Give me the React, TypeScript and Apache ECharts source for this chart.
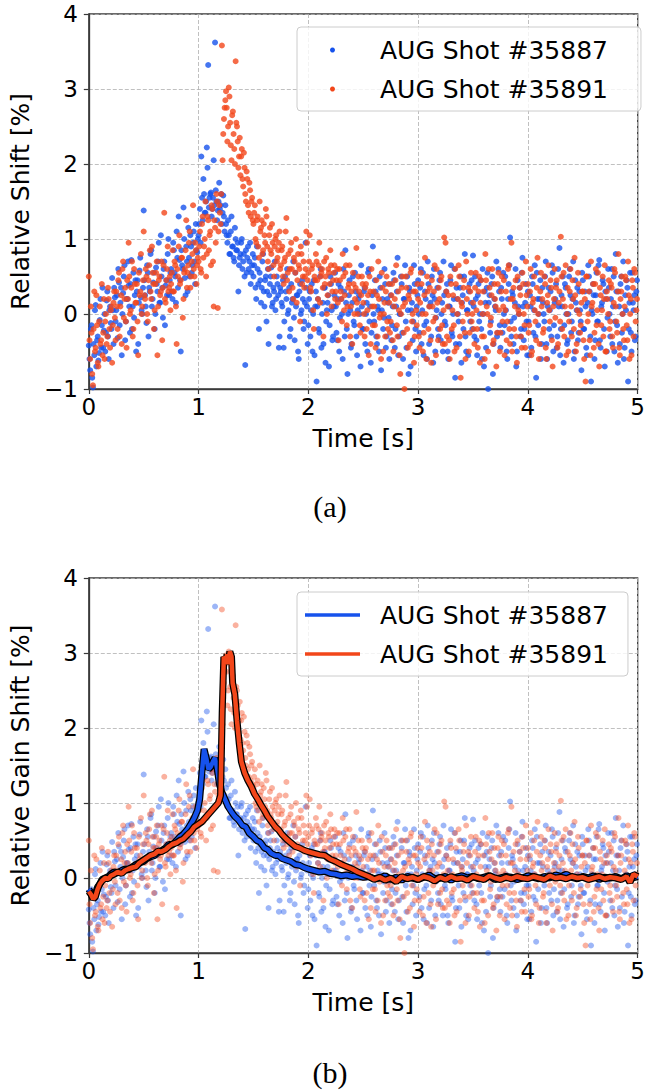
import React, { useEffect, useRef } from "react";
import * as echarts from "echarts";

// ---- data ----
const SAMPLE_STEP = 0.0125; // s between samples of one sweep
const X_TICKS = [0, 1, 2, 3, 4, 5];
const Y_TICKS = [-1, 0, 1, 2, 3, 4];
const SHOT_A = "AUG Shot #35887";
const SHOT_B = "AUG Shot #35891";

// relative shift samples, shot #35887 (at i * step)
const shot35887 = [
  -0.42, -0.75, -0.15, -0.98, -0.55, 0.12, -0.35, -0.62, -0.08, -0.45, 0.35, -0.22, -0.5, 0.18, -0.3, 0.05, -0.12, 0.48, -0.4, 0.22,
  0.05, -0.32, 0.42, 0.15, -0.55, 0.28, 0.65, -0.1, 0.2, 0.38, -0.25, 0.72, 0.1, -0.05, 0.45, 0.3, -0.4, 0.58, 0.22, 0.0,
  1.38, 0.25, -0.12, 0.55, 0.35, 0.8, 0.1, 0.42, -0.2, 0.62, 0.3, 0.95, 0.15, 0.5, -0.05, 0.7, 0.38, 0.25, 1.0, 0.45,
  0.6, 0.2, 0.85, 0.5, 1.1, 0.35, 0.72, -0.5, 0.65, 1.42, 0.48, 0.9, 0.3, 0.75, 1.05, 0.55, 0.95, 0.7, 1.2, 0.82,
  1.05, 1.4, 2.1, 1.25, 1.6, 1.35, 2.22, 3.32, 1.55, 1.62, 1.4, 2.05, 3.62, 1.5, 1.38, 1.75, 1.45, 1.2, 1.58, 1.1,
  1.2, 0.95, 1.05, 0.8, 1.3, 0.9, 0.7, 1.0, 0.85, 0.3, 0.75, 0.95, 0.6, 0.8, -0.68, 0.55, 0.9, 0.7, 0.4, 0.65,
  0.5, 0.75, 0.2, 0.6, -0.2, 0.45, 0.35, 0.8, 0.1, 0.5, 0.3, -0.4, 0.4, 0.62, 0.15, 0.3, 0.05, 0.5, 0.25, -0.3,
  0.3, 0.1, -0.45, 0.5, 0.2, 0.0, 0.35, -0.2, 0.15, 0.7, -0.35, 0.1, 0.25, -0.6, 0.4, 0.05, 0.2, -0.1, 0.95, 0.1,
  -0.15, 0.3, 0.05, -0.5, 0.45, 0.1, -0.9, 0.2, -0.25, 0.6, 0.0, -0.4, 0.35, -0.1, 0.15, -0.7, 0.5, 0.05, -0.3, 0.25,
  0.1, -0.35, 0.4, -0.05, 0.2, -0.6, 0.3, 0.85, -0.2, 0.0, 0.45, -0.45, 0.15, -0.1, 0.55, -0.3, 0.05, 0.25, -0.7, 0.1,
  -0.2, 0.35, 0.0, -0.5, 0.6, 0.1, -0.25, 0.9, -0.1, 0.3, -0.4, 0.05, 0.5, -0.75, 0.2, -0.05, 0.4, -0.3, 0.15, -0.6,
  0.25, -0.15, 0.55, -0.45, 0.1, 0.75, -0.3, 0.0, 0.4, -0.6, 0.2, -0.1, 0.5, -0.8, 0.3, 0.05, -0.35, 0.65, -0.2, 0.1,
  0.45, -0.25, 0.6, 0.05, -0.55, 0.3, -0.1, 0.7, -0.4, 0.15, 0.5, -0.65, 0.2, -0.05, 0.35, -0.3, 0.55, 0.0, -0.5, 0.25,
  -0.15, 0.4, -0.6, 0.1, 0.65, -0.3, 0.2, -0.85, 0.35, 0.0, -0.4, 0.5, 0.15, -0.2, 0.8, -0.5, 0.05, 0.3, -0.1, 0.45,
  0.78, -0.3, 0.2, -0.55, 0.4, 0.0, -0.2, 0.6, -0.7, 0.15, 0.35, -1.0, 0.25, -0.1, 0.5, -0.4, 0.1, 0.7, -0.25, 0.3,
  -0.45, 0.2, 0.55, -0.15, 0.05, -0.6, 0.4, 1.02, -0.3, 0.25, -0.05, 0.6, -0.5, 0.1, 0.35, -0.2, 0.75, -0.35, 0.15, -0.1,
  0.3, -0.55, 0.1, 0.5, -0.25, 0.65, -0.85, 0.2, 0.0, 0.45, -0.4, 0.15, -0.1, 0.7, -0.6, 0.35, 0.05, -0.3, 0.55, -0.15,
  0.2, -0.45, 0.6, 0.88, -0.2, 0.1, -0.65, 0.4, 0.0, -0.35, 0.5, 0.25, -0.1, 0.7, -0.5, 0.15, 0.35, -0.25, 0.05, -0.75,
  0.45, -0.2, 0.1, -0.55, 0.65, 0.3, -0.9, 0.0, 0.25, -0.35, 0.55, -0.1, 0.72, -0.45, 0.15, 0.4, -0.7, 0.2, -0.05, 0.35,
  -0.3, 0.6, 0.1, -0.5, 0.8, -0.15, 0.3, -0.4, 0.5, 0.0, -0.6, 0.25, 0.45, -0.9, 0.15, -0.25, 0.55, 0.05, -0.35, 0.3,
];

// relative shift samples, shot #35887 (at (i + 0.5) * step)
const shot35887Mid = [
  -0.6, -0.2, -0.85, -0.4, 0.05, -0.7, -0.3, -0.52, 0.2, -0.15, -0.45, 0.0, -0.25, 0.3, -0.6, 0.1, -0.2, 0.05, 0.35, -0.1,
  0.25, 0.6, -0.15, 0.35, 0.0, 0.5, -0.35, 0.2, 0.7, 0.1, 0.4, -0.2, 0.55, 0.25, -0.5, 0.45, 0.15, 0.75, 0.05, 0.35,
  0.45, 0.1, 0.65, -0.3, 0.3, 0.85, 0.2, 0.55, 0.0, 0.4, 0.7, 0.15, 1.05, 0.35, 0.6, -0.15, 0.45, 0.8, 0.25, 0.55,
  0.3, 0.95, 0.55, 0.15, 0.75, 1.3, 0.45, 0.85, 0.6, 1.0, 0.25, 0.7, 1.15, 0.5, 0.9, 0.65, 1.1, 0.4, 0.85, 1.0,
  1.2, 0.95, 1.55, 1.8, 1.35, 1.5, 1.95, 1.42, 1.6, 1.3, 1.55, 1.45, 1.65, 1.25, 1.5, 1.4, 1.6, 1.35, 1.3, 1.45,
  1.05, 1.25, 0.8, 1.1, 0.9, 0.75, 1.15, 0.85, 0.95, 0.65, 0.8, 1.0, 0.7, 0.5, 0.85, 0.75, 0.6, 0.95, 0.55, 0.8,
  0.65, 0.35, 0.9, 0.4, 0.55, 0.15, 0.7, 0.3, 0.45, -0.1, 0.6, 0.25, 0.5, 0.1, 0.35, 0.7, 0.2, 0.4, -0.45, 0.35,
  0.15, 0.45, -0.1, 0.3, 0.6, 0.05, -0.3, 0.4, 0.2, -0.05, 0.55, 0.25, -0.5, 0.3, 0.0, 0.45, -0.2, 0.15, 0.35, -0.4,
  0.2, -0.3, 0.4, 0.0, -0.55, 0.3, 0.1, -0.2, 0.5, -0.45, 0.15, 0.35, -0.65, 0.05, 0.25, -0.15, 0.4, -0.35, 0.1, 0.55,
  -0.25, 0.2, -0.5, 0.35, 0.0, 0.6, -0.3, 0.15, -0.8, 0.25, 0.05, -0.4, 0.5, -0.15, 0.3, -0.55, 0.2, 0.0, 0.65, -0.2,
  0.3, -0.4, 0.15, 0.55, -0.1, -0.65, 0.25, 0.0, 0.45, -0.3, 0.1, -0.5, 0.35, 0.05, -0.2, 0.6, -0.45, 0.2, -0.05, 0.4,
  -0.35, 0.1, 0.45, -0.2, 0.3, -0.55, 0.0, 0.5, -0.25, 0.2, 0.65, -0.45, 0.05, 0.35, -0.7, 0.15, -0.1, 0.4, -0.5, 0.25,
  0.0, 0.35, -0.4, 0.55, -0.15, 0.2, -0.6, 0.4, 0.1, -0.3, 0.25, 0.6, -0.5, 0.05, -0.2, 0.45, -0.35, 0.15, 0.7, -0.1,
  0.3, -0.5, 0.1, 0.45, -0.25, 0.0, 0.6, -0.4, 0.2, -0.1, 0.35, -0.65, 0.25, 0.5, -0.3, 0.05, -0.55, 0.4, 0.15, -0.2,
  0.1, 0.5, -0.35, 0.25, -0.1, 0.45, -0.6, 0.0, 0.3, -0.45, 0.55, 0.15, -0.25, 0.4, -0.8, 0.2, 0.05, -0.3, 0.6, -0.15,
  0.35, -0.25, 0.0, 0.5, -0.5, 0.2, 0.65, -0.1, 0.3, -0.4, 0.15, -0.7, 0.45, 0.0, -0.3, 0.55, 0.1, -0.2, 0.4, -0.55,
  -0.1, 0.25, -0.45, 0.4, 0.05, -0.3, 0.55, -0.15, 0.2, -0.6, 0.35, 0.0, 0.5, -0.4, 0.1, -0.2, 0.3, 0.65, -0.5, 0.15,
  0.4, -0.3, 0.1, -0.55, 0.25, 0.5, -0.15, 0.35, -0.4, 0.0, 0.6, -0.25, 0.2, -0.6, 0.45, 0.05, -0.35, 0.3, -0.1, 0.55,
  -0.2, 0.3, -0.45, 0.15, 0.5, -0.3, 0.05, 0.4, -0.6, 0.25, -0.1, 0.65, -0.35, 0.1, 0.45, -0.2, 0.3, -0.5, 0.6, 0.0,
  0.2, -0.4, 0.5, -0.1, 0.3, -0.65, 0.1, 0.4, -0.25, 0.7, -0.45, 0.05, 0.35, -0.2, 0.55, -0.5, 0.15, 0.25, -0.3, 0.45,
];

// relative shift samples, shot #35891 (at i * step)
const shot35891 = [
  0.5, -0.6, -0.25, -0.95, 0.3, -0.45, -0.15, -0.7, 0.1, -0.35, -0.55, 0.2, -0.1, -0.4, 0.35, -0.2, 0.05, -0.65, 0.15, -0.05,
  0.3, -0.2, 0.55, 0.1, -0.4, 0.7, 0.2, -0.1, 0.45, 0.95, 0.0, 0.35, -0.3, 0.6, 0.15, 0.4, -0.55, 0.25, 0.8, 0.1,
  1.1, 0.2, 0.5, -0.1, 0.65, 0.3, 0.9, 0.4, 0.05, 0.55, -0.55, 0.45, 0.25, 0.7, 0.35, 1.35, 0.15, 0.6, 0.3, 0.5,
  0.4, 0.85, 0.3, 0.65, -0.4, 0.5, 1.05, 0.45, 0.75, 0.2, 0.6, 1.25, 0.55, 0.95, 0.35, 0.7, 1.45, 0.5, 0.85, 0.65,
  0.7, 1.1, 0.55, 1.3, 0.9, 1.5, 0.8, 1.25, 1.05, 0.65, 1.4, 0.1, 1.15, 1.6, 0.08, 1.45, 1.2, 3.58, 2.4, 2.75,
  2.97, 2.3, 3.02, 2.55, 2.05, 2.7, 2.2, 3.37, 2.5, 1.95, 2.35, 2.1, 1.8, 2.15, 1.6, 1.9, 1.45, 1.75, 1.3, 1.55,
  1.2, 1.45, 0.95, 1.3, 0.75, 1.1, 1.25, 0.85, 1.05, 1.4, 0.9, 0.6, 1.15, 0.8, 0.95, 0.5, 1.0, 0.7, 0.85, 1.1,
  0.65, 0.9, 0.4, 0.75, 1.28, 0.55, 0.3, 0.85, 0.6, 0.2, 0.7, 1.0, 0.45, 0.65, -0.1, 0.8, 0.5, 0.35, 0.6, 0.95,
  0.55, 1.05, 0.3, 0.65, -0.2, 0.45, 0.7, 0.2, 0.95, 0.5, 0.6, -0.3, 0.4, 0.75, 0.25, 0.55, 0.85, 0.1, 0.45, 0.65,
  0.3, 0.6, -0.35, 0.45, 0.2, 0.8, 0.05, 0.55, -0.15, 0.35, 0.65, 0.1, -0.4, 0.4, 0.2, 0.88, 0.0, 0.3, -0.25, 0.5,
  0.15, -0.3, 0.4, 0.05, -0.55, 0.3, 0.6, -0.15, 0.1, -0.45, 0.25, 0.7, -0.05, -0.6, 0.35, 0.0, -0.3, 0.5, -0.2, 0.15,
  -0.1, 0.4, -0.5, 0.2, 0.65, -0.3, 0.05, -0.8, 0.35, 0.1, -1.0, 0.5, -0.2, 0.25, -0.4, 0.6, 0.0, -0.65, 0.3, -0.15,
  0.2, -0.45, 0.55, 0.0, -0.25, 0.75, -0.6, 0.3, 0.1, -0.35, 0.45, -0.1, 0.65, -0.55, 0.15, 0.35, -0.2, 0.5, -0.4, 1.02,
  0.95, -0.3, 0.25, -0.6, 0.4, 0.05, -0.15, 0.6, -0.45, 0.2, 0.5, -0.85, 0.1, 0.35, -0.25, 0.7, 0.0, -0.5, 0.3, -0.1,
  0.15, -0.4, 0.55, -0.2, 0.3, -0.65, 0.45, 0.0, -0.3, 0.8, 0.1, -0.5, 0.35, -0.05, 0.6, -0.35, 0.2, -0.7, 0.4, 0.05,
  -0.25, 0.5, 0.1, -0.55, 0.3, -0.1, 0.65, -0.4, 0.95, 0.2, -0.2, 0.45, -0.65, 0.05, 0.35, -0.3, 0.55, 0.0, -0.45, 0.25,
  0.4, -0.15, 0.6, -0.5, 0.2, 0.05, -0.35, 0.75, -0.6, 0.3, 0.1, -0.25, 0.5, -0.45, 0.15, 0.65, -0.1, 0.35, -0.7, 0.2,
  -0.05, 0.45, -0.4, 0.3, 1.03, -0.2, 0.55, 0.1, -0.55, 0.35, -0.1, 0.6, -0.3, 0.2, 0.75, -0.5, 0.05, 0.4, -0.25, 0.15,
  0.3, -0.6, -0.9, 0.5, 0.0, -0.35, 0.7, 0.15, -0.45, 0.4, -0.15, 0.55, -0.7, 0.25, 0.05, -0.3, 0.65, -0.5, 0.2, 0.45,
  -0.1, 0.35, -0.45, 0.6, 0.1, -0.25, 0.8, -0.55, 0.3, 0.0, -0.35, 0.5, -0.15, 0.7, -0.6, 0.2, 0.45, -0.3, 0.55, 0.05,
];

// relative shift samples, shot #35891 (at (i + 0.5) * step)
const shot35891Mid = [
  -0.35, 0.1, -0.8, -0.2, -0.5, 0.25, -0.65, -0.1, -0.4, 0.4, -0.25, -0.6, 0.0, -0.3, 0.2, -0.45, 0.1, -0.15, 0.3, -0.35,
  0.1, 0.45, -0.3, 0.25, 0.6, -0.05, 0.35, -0.45, 0.2, 0.5, 0.05, 0.7, -0.2, 0.4, 0.15, -0.1, 0.55, 0.3, 0.0, 0.45,
  0.25, 0.6, 0.0, 0.45, 0.85, 0.2, 0.55, -0.2, 0.4, 0.7, 0.1, 0.5, 0.3, -0.35, 0.65, 0.2, 0.45, 0.9, 0.35, 0.05,
  0.55, 0.3, 0.7, 0.1, 0.6, 0.9, 0.4, 0.75, -0.05, 0.55, 0.85, 0.35, 0.65, 1.1, 0.5, 0.8, 0.6, 0.95, 0.4, 0.75,
  0.9, 0.6, 1.2, 0.75, 1.0, 0.5, 1.3, 0.85, 1.1, 1.45, 0.7, 1.25, 0.95, 1.5, 1.1, 1.35, 1.6, 2.05, 2.6, 2.85,
  2.75, 2.5, 2.9, 2.25, 2.65, 2.4, 2.0, 2.55, 2.3, 2.1, 1.85, 2.2, 1.7, 1.95, 1.5, 1.8, 1.35, 1.65, 1.5, 1.25,
  1.35, 1.0, 1.25, 0.9, 1.5, 1.15, 0.8, 1.2, 0.95, 1.3, 0.7, 1.05, 0.85, 1.2, 0.65, 0.9, 1.05, 0.75, 0.95, 0.6,
  0.85, 0.5, 0.7, 1.1, 0.45, 0.8, 0.6, 0.95, 0.35, 0.75, 0.55, 0.15, 0.8, 0.6, 0.9, 0.4, 0.7, 0.5, 1.1, 0.45,
  0.7, 0.35, 0.6, 0.05, 0.5, 0.8, 0.45, 0.65, 0.15, 0.55, 0.35, 0.7, 0.5, 0.0, 0.6, 0.4, 0.65, 0.3, 0.55, 0.2,
  0.45, 0.15, 0.6, 0.3, -0.1, 0.5, 0.25, 0.65, 0.1, 0.4, -0.3, 0.3, 0.55, 0.0, 0.35, 0.15, 0.5, -0.15, 0.25, 0.4,
  0.0, 0.35, -0.2, 0.25, 0.5, -0.4, 0.1, 0.3, -0.15, 0.45, -0.3, 0.2, 0.0, 0.55, -0.5, 0.15, 0.3, -0.1, 0.4, -0.25,
  0.25, -0.35, 0.1, 0.45, -0.15, 0.3, -0.55, 0.0, 0.5, -0.25, 0.15, 0.35, -0.45, 0.2, 0.55, -0.1, 0.3, -0.3, 0.05, 0.4,
  -0.3, 0.15, 0.4, -0.5, 0.25, 0.0, 0.5, -0.2, 0.35, -0.65, 0.1, 0.3, -0.05, 0.6, -0.35, 0.2, 0.45, -0.15, 0.05, -0.4,
  0.3, 0.1, -0.35, 0.5, -0.2, 0.25, -0.5, 0.4, 0.0, 0.65, -0.3, 0.15, -0.1, 0.45, -0.6, 0.2, 0.35, -0.25, 0.55, 0.0,
  -0.2, 0.35, 0.05, -0.45, 0.5, 0.15, -0.3, 0.3, -0.6, 0.45, 0.0, 0.6, -0.15, 0.25, -0.4, 0.4, 0.1, -0.25, 0.55, -0.5,
  0.3, -0.1, 0.45, 0.05, -0.35, 0.6, -0.2, 0.2, -0.5, 0.35, 0.1, -0.3, 0.5, 0.0, 0.25, -0.45, 0.4, -0.15, 0.7, 0.1,
  -0.25, 0.3, -0.55, 0.15, 0.5, -0.1, 0.35, 0.0, -0.4, 0.55, 0.2, -0.2, 0.4, -0.6, 0.25, 0.05, 0.45, -0.35, 0.1, 0.6,
  0.35, -0.45, 0.15, -0.1, 0.5, 0.2, -0.3, 0.65, 0.0, -0.5, 0.3, 0.1, 0.45, -0.2, 0.25, -0.4, 0.55, 0.0, -0.15, 0.3,
  -0.35, 0.2, 0.5, -0.1, 0.3, -0.55, 0.1, 0.4, -0.25, 0.6, 0.05, -0.4, 0.35, -0.15, 0.5, 0.2, -0.5, 0.3, 0.0, -0.2,
  0.4, -0.3, 0.15, 0.55, -0.1, 0.3, -0.45, 0.2, 0.5, -0.2, 0.1, 0.45, -0.35, 0.25, 0.0, -0.55, 0.35, 0.6, -0.1, 0.2,
];

// smoothed relative gain shift [time s, %], shot #35887
const gain35887 = [
  [0, -0.15], [0.02, -0.2], [0.04, -0.27], [0.06, -0.22], [0.08, -0.12], [0.1, -0.08], [0.12, -0.02], [0.15, 0.0],
  [0.18, 0.02], [0.2, 0.05], [0.23, 0.08], [0.26, 0.07], [0.3, 0.1], [0.33, 0.12], [0.36, 0.11], [0.4, 0.15],
  [0.43, 0.18], [0.46, 0.2], [0.5, 0.22], [0.53, 0.26], [0.56, 0.28], [0.6, 0.3], [0.63, 0.34], [0.66, 0.36],
  [0.7, 0.4], [0.73, 0.45], [0.76, 0.44], [0.8, 0.5], [0.83, 0.55], [0.86, 0.58], [0.9, 0.65], [0.93, 0.72],
  [0.96, 0.8], [0.99, 0.9], [1.01, 1.05], [1.03, 1.4], [1.05, 1.72], [1.07, 1.6], [1.09, 1.45], [1.11, 1.48],
  [1.13, 1.55], [1.15, 1.6], [1.17, 1.45], [1.19, 1.25], [1.21, 1.15], [1.24, 1.05], [1.27, 0.95], [1.3, 0.88],
  [1.33, 0.82], [1.36, 0.78], [1.4, 0.7], [1.43, 0.68], [1.46, 0.6], [1.5, 0.55], [1.53, 0.5], [1.56, 0.48],
  [1.6, 0.4], [1.63, 0.38], [1.66, 0.33], [1.7, 0.3], [1.73, 0.3], [1.76, 0.26], [1.8, 0.24], [1.84, 0.22],
  [1.88, 0.18], [1.92, 0.17], [1.96, 0.14], [2.0, 0.12], [2.05, 0.1], [2.1, 0.08], [2.15, 0.09], [2.2, 0.06],
  [2.25, 0.05], [2.3, 0.03], [2.35, 0.04], [2.4, 0.02], [2.45, 0.03], [2.5, 0.01], [2.55, 0.02], [2.6, -0.01],
  [2.65, 0.0], [2.7, 0.03], [2.75, -0.02], [2.8, 0.01], [2.85, -0.03], [2.9, 0.02], [2.95, 0.0], [3.0, -0.02],
  [3.05, 0.01], [3.1, 0.04], [3.15, -0.01], [3.2, 0.0], [3.25, 0.02], [3.3, -0.03], [3.35, 0.01], [3.4, 0.03],
  [3.45, 0.0], [3.5, 0.02], [3.55, -0.01], [3.6, 0.01], [3.65, 0.03], [3.7, -0.02], [3.75, 0.0], [3.8, 0.02],
  [3.85, 0.01], [3.9, -0.02], [3.95, 0.0], [4.0, 0.03], [4.05, 0.01], [4.1, -0.01], [4.15, 0.02], [4.2, 0.0],
  [4.25, 0.04], [4.3, 0.02], [4.35, 0.05], [4.4, 0.01], [4.45, -0.01], [4.5, 0.02], [4.55, 0.0], [4.6, 0.03],
  [4.65, -0.02], [4.7, 0.01], [4.75, 0.0], [4.8, 0.02], [4.85, -0.01], [4.9, 0.03], [4.95, 0.0], [5.0, 0.02],
];

// smoothed relative gain shift [time s, %], shot #35891
const gain35891 = [
  [0, -0.18], [0.02, -0.22], [0.04, -0.28], [0.06, -0.25], [0.08, -0.15], [0.1, -0.08], [0.12, -0.04], [0.15, 0.0],
  [0.18, -0.01], [0.2, 0.03], [0.23, 0.05], [0.26, 0.08], [0.3, 0.06], [0.33, 0.1], [0.36, 0.12], [0.4, 0.14],
  [0.43, 0.15], [0.46, 0.2], [0.5, 0.24], [0.53, 0.27], [0.56, 0.3], [0.6, 0.32], [0.63, 0.36], [0.66, 0.35],
  [0.7, 0.38], [0.73, 0.42], [0.76, 0.45], [0.8, 0.47], [0.83, 0.5], [0.86, 0.52], [0.9, 0.58], [0.93, 0.62],
  [0.96, 0.68], [1.0, 0.72], [1.03, 0.75], [1.06, 0.8], [1.09, 0.85], [1.12, 0.9], [1.15, 0.95], [1.18, 1.0],
  [1.2, 1.1], [1.215, 2.2], [1.23, 2.95], [1.25, 2.9], [1.26, 2.98], [1.27, 2.85], [1.285, 3.02], [1.3, 2.95],
  [1.31, 2.6], [1.33, 2.45], [1.35, 2.1], [1.37, 1.8], [1.39, 1.55], [1.42, 1.4], [1.45, 1.3], [1.48, 1.22],
  [1.51, 1.12], [1.54, 1.05], [1.57, 0.97], [1.6, 0.9], [1.63, 0.82], [1.66, 0.76], [1.7, 0.68], [1.73, 0.64],
  [1.76, 0.58], [1.8, 0.52], [1.84, 0.47], [1.88, 0.42], [1.92, 0.4], [1.96, 0.37], [2.0, 0.35], [2.05, 0.33],
  [2.1, 0.31], [2.15, 0.3], [2.2, 0.25], [2.25, 0.22], [2.3, 0.18], [2.35, 0.15], [2.4, 0.12], [2.45, 0.08],
  [2.5, 0.05], [2.55, 0.02], [2.6, -0.02], [2.65, 0.01], [2.7, -0.03], [2.75, 0.0], [2.8, -0.05], [2.85, 0.02],
  [2.9, -0.01], [2.95, 0.01], [3.0, -0.02], [3.05, 0.02], [3.1, 0.0], [3.15, -0.04], [3.2, 0.01], [3.25, -0.02],
  [3.3, 0.02], [3.35, -0.01], [3.4, 0.0], [3.45, -0.03], [3.5, 0.02], [3.55, 0.0], [3.6, -0.02], [3.65, 0.03],
  [3.7, 0.0], [3.75, -0.02], [3.8, 0.01], [3.85, -0.01], [3.9, 0.02], [3.95, 0.0], [4.0, -0.01], [4.05, 0.02],
  [4.1, 0.0], [4.15, -0.02], [4.2, 0.03], [4.25, 0.0], [4.3, 0.01], [4.35, -0.01], [4.4, 0.02], [4.45, 0.0],
  [4.5, 0.01], [4.55, -0.02], [4.6, 0.0], [4.65, 0.02], [4.7, -0.01], [4.75, 0.01], [4.8, 0.0], [4.85, -0.02],
  [4.9, 0.02], [4.93, -0.06], [4.96, 0.05], [5.0, 0.02],
];

// ---- styling ----
const BLUE = "#1652ec";
const RED = "#f2461a";
const FONT = '"DejaVu Sans", sans-serif';
const FRAME = "#3a3a3a";

const toPoints = (vals: number[], offset: number) => vals.map((v, i) => [(i + offset) * SAMPLE_STEP, v]);
const minusFmt = (v: number) => (v < 0 ? "\u2212" + Math.abs(v) : String(v));

function xAxisFor(gridIndex: number) {
  return {
    type: "value",
    gridIndex,
    min: X_TICKS[0],
    max: X_TICKS[X_TICKS.length - 1],
    interval: 1,
    name: "Time [s]",
    nameLocation: "middle",
    nameGap: 37,
    nameTextStyle: { fontFamily: FONT, fontSize: 25, color: "#000" },
    axisLine: { show: true, onZero: false, lineStyle: { color: FRAME, width: 1.3 } },
    axisTick: { show: true, inside: false, length: 5, lineStyle: { color: FRAME, width: 1.2 } },
    axisLabel: { fontFamily: FONT, fontSize: 23, color: "#000", margin: 6, formatter: minusFmt },
    splitLine: { show: true, lineStyle: { color: "#b0b0b0", width: 0.8, type: [4, 2] } },
  };
}

function yAxisFor(gridIndex: number, name: string) {
  return {
    type: "value",
    gridIndex,
    min: Y_TICKS[0],
    max: Y_TICKS[Y_TICKS.length - 1],
    interval: 1,
    name,
    nameLocation: "middle",
    nameRotate: 90,
    nameGap: 50,
    nameTextStyle: { fontFamily: FONT, fontSize: 25, color: "#000" },
    axisLine: { show: true, onZero: false, lineStyle: { color: FRAME, width: 1.3 } },
    axisTick: { show: true, inside: false, length: 5, lineStyle: { color: FRAME, width: 1.2 } },
    axisLabel: { fontFamily: FONT, fontSize: 23, color: "#000", margin: 11, formatter: minusFmt },
    splitLine: { show: true, lineStyle: { color: "#b0b0b0", width: 0.8, type: [4, 2] } },
  };
}

function legendFor(top: number, icon: string, itemHeight: number, padding: number[]) {
  return {
    orient: "vertical",
    left: 297,
    top,
    padding,
    itemGap: 14,
    itemWidth: 55,
    itemHeight,
    backgroundColor: "rgba(255,255,255,0.8)",
    borderColor: "#cccccc",
    borderWidth: 1,
    borderRadius: 4,
    selectedMode: false,
    textStyle: { fontFamily: FONT, fontSize: 25, lineHeight: 25, color: "#000", padding: [0, 0, 0, 15] },
    data: [
      { name: SHOT_A, icon, itemStyle: { color: BLUE, opacity: 1 } },
      { name: SHOT_B, icon, itemStyle: { color: RED, opacity: 1 } },
    ],
  };
}

export default function App() {
  const ref = useRef<HTMLDivElement>(null);
  useEffect(() => {
    document.body.style.margin = "0";
    if (!ref.current) return;
    const chart = echarts.init(ref.current, undefined, { renderer: "svg" });
    const ptsA = toPoints(shot35887, 0).concat(toPoints(shot35887Mid, 0.5));
    const ptsB = toPoints(shot35891, 0).concat(toPoints(shot35891Mid, 0.5));
    const option: any = {
      animation: false,
      backgroundColor: "#fff",
      grid: [
        { left: 85, top: 14, width: 556, height: 375, show: true, borderColor: FRAME, borderWidth: 1.3, containLabel: false },
        { left: 85, top: 578, width: 556, height: 375, show: true, borderColor: FRAME, borderWidth: 1.3, containLabel: false },
      ],
      xAxis: [xAxisFor(0), xAxisFor(1)],
      yAxis: [yAxisFor(0, "Relative Shift [%]"), yAxisFor(1, "Relative Gain Shift [%]")],
      legend: [
        legendFor(27, "circle", 5, [10.5, 33, 9.5, 33]),
        legendFor(592, "rect", 3.5, [10.5, 20, 9.5, 8]),
      ],
      series: [
        { name: SHOT_A, type: "scatter", xAxisIndex: 0, yAxisIndex: 0, data: ptsA, symbolSize: 6, itemStyle: { color: BLUE }, clip: true },
        { name: SHOT_B, type: "scatter", xAxisIndex: 0, yAxisIndex: 0, data: ptsB, symbolSize: 6, itemStyle: { color: RED }, clip: true },
        { name: SHOT_A + " samples", type: "scatter", xAxisIndex: 1, yAxisIndex: 1, data: ptsA, symbolSize: 6, itemStyle: { color: BLUE, opacity: 0.42 }, clip: true },
        { name: SHOT_B + " samples", type: "scatter", xAxisIndex: 1, yAxisIndex: 1, data: ptsB, symbolSize: 6, itemStyle: { color: RED, opacity: 0.42 }, clip: true },
        { name: SHOT_A + " outline", type: "line", xAxisIndex: 1, yAxisIndex: 1, data: gain35887, symbol: "none", lineStyle: { color: "#000", width: 7 }, clip: true },
        { name: SHOT_A, type: "line", xAxisIndex: 1, yAxisIndex: 1, data: gain35887, symbol: "none", lineStyle: { color: BLUE, width: 4.5 }, itemStyle: { color: BLUE }, clip: true },
        { name: SHOT_B + " outline", type: "line", xAxisIndex: 1, yAxisIndex: 1, data: gain35891, symbol: "none", lineStyle: { color: "#000", width: 7 }, clip: true },
        { name: SHOT_B, type: "line", xAxisIndex: 1, yAxisIndex: 1, data: gain35891, symbol: "none", lineStyle: { color: RED, width: 4.5 }, itemStyle: { color: RED }, clip: true },
      ],
      graphic: [
        { type: "text", x: 330, y: 506, style: { text: "(a)", font: '30px "Liberation Serif", serif', fill: "#000", textAlign: "center", textVerticalAlign: "middle" } },
        { type: "text", x: 330, y: 1072, style: { text: "(b)", font: '30px "Liberation Serif", serif', fill: "#000", textAlign: "center", textVerticalAlign: "middle" } },
      ],
    };
    chart.setOption(option);
    return () => chart.dispose();
  }, []);
  return <div ref={ref} style={{ width: 648, height: 1090 }} />;
}
